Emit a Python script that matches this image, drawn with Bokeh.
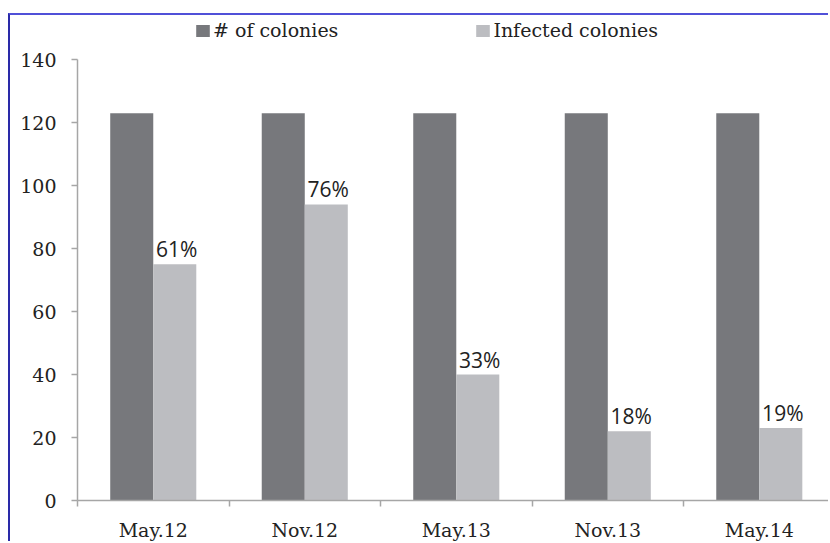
import numpy as np
from bokeh.plotting import figure
from bokeh.models import Range1d, FixedTicker, Legend, LegendItem, ColumnDataSource
from bokeh.embed import file_html
from bokeh.resources import INLINE
from bokeh.core.properties import value

# ---- data ----
categories = ["May.12", "Nov.12", "May.13", "Nov.13", "May.14"]
total_colonies = [123, 123, 123, 123, 123]
infected_colonies = [75, 94, 40, 22, 23]
infected_pct = ["61%", "76%", "33%", "18%", "19%"]
y_ticks = [0, 20, 40, 60, 80, 100, 120, 140]

DARK = "#77787c"
LIGHT = "#bcbdc1"
AXIS = "#a6a6a6"
SERIF = "DejaVu Serif"

bar_w = 0.284
centers = np.arange(len(categories)) + 0.5

src = ColumnDataSource(dict(
    xd=centers - bar_w / 2,
    xl=centers + bar_w / 2,
    total=total_colonies,
    inf=infected_colonies,
    pct=infected_pct,
))

p = figure(width=820, height=528, output_backend="svg", toolbar_location=None,
           x_range=Range1d(0, 4.97), y_range=Range1d(0, 154),
           min_border_left=67, min_border_right=0, min_border_top=0,
           min_border_bottom=42)
p.styles = {"border-top": "2px solid #5050d8", "border-left": "2px solid #2a2aa8",
            "margin-left": "8px", "margin-top": "13px"}
p.outline_line_color = None
p.xgrid.visible = False
p.ygrid.visible = False
p.background_fill_color = "white"
p.border_fill_color = "white"

r1 = p.vbar(x="xd", top="total", width=bar_w, source=src, fill_color=DARK, line_color=None)
r2 = p.vbar(x="xl", top="inf", width=bar_w, source=src, fill_color=LIGHT, line_color=None)

p.text(x="xl", y="inf", text="pct", source=src, text_align="center",
       text_baseline="bottom", x_offset=2, y_offset=-1, text_font=value("Open Sans"),
       text_font_size="21px", text_color="#222222")

# y axis
ya = p.yaxis[0]
ya.ticker = FixedTicker(ticks=y_ticks)
ya.bounds = (0, 140)
ya.axis_line_color = AXIS
ya.axis_line_width = 1.5
ya.major_tick_line_color = AXIS
ya.major_tick_line_width = 1.5
ya.major_tick_out = 6
ya.major_tick_in = 0
ya.minor_tick_out = 0
ya.minor_tick_in = 0
ya.major_label_text_font = SERIF
ya.major_label_text_font_size = "19px"
ya.major_label_text_color = "#222222"
ya.major_label_standoff = 15

# x axis
xa = p.xaxis[0]
xa.ticker = FixedTicker(ticks=list(centers), minor_ticks=list(range(len(categories) + 1)))
xa.major_label_overrides = {float(c): lab for c, lab in zip(centers, categories)}
xa.axis_line_color = AXIS
xa.axis_line_width = 1.5
xa.major_tick_out = 0
xa.major_tick_in = 0
xa.minor_tick_line_color = AXIS
xa.minor_tick_line_width = 1.5
xa.minor_tick_out = 6
xa.minor_tick_in = 0
xa.major_label_text_font = SERIF
xa.major_label_text_font_size = "19px"
xa.major_label_text_color = "#222222"
xa.major_label_standoff = 12

legend = Legend(items=[LegendItem(label="# of colonies", renderers=[r1]),
                       LegendItem(label="Infected colonies", renderers=[r2])],
                orientation="horizontal", location=(117, 459),
                glyph_width=17, glyph_height=15, label_standoff=2, spacing=136,
                padding=0, margin=0, border_line_color=None,
                background_fill_alpha=0,
                label_text_font=SERIF, label_text_font_size="19px",
                label_text_color="#222222")
p.add_layout(legend, "center")

open("out.html", "w").write(file_html(p, INLINE))
